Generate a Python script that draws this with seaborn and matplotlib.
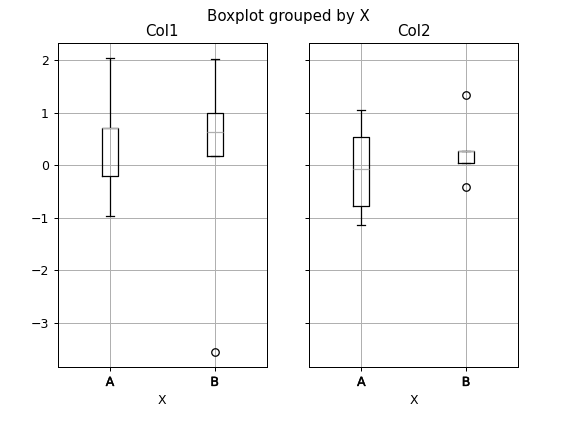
import matplotlib
matplotlib.use("Agg")
import matplotlib.pyplot as plt
import matplotlib.patheffects as pe
import seaborn as sns
import pandas as pd

groups = ["A", "A", "A", "A", "A", "B", "B", "B", "B", "B"]
col1 = [-0.97, -0.21, 0.70, 0.70, 2.04, -3.57, 0.17, 0.62, 0.99, 2.02]
col2 = [-1.15, -0.78, -0.08, 0.53, 1.04, -0.42, 0.03, 0.26, 0.26, 1.33]
columns = ["Col1", "Col2"]
order = ["A", "B"]

df = pd.DataFrame({"X": groups, "Col1": col1, "Col2": col2})

fig, axes = plt.subplots(1, 2, figsize=(6.4, 4.8), dpi=90, sharey=True)
fig.subplots_adjust(left=0.1, right=0.9, bottom=0.15, top=0.9, wspace=0.2)

for ax, col in zip(axes, columns):
    sns.boxplot(
        data=df, x="X", y=col, order=order, ax=ax,
        width=0.15, whis=1.5, fill=False, color="black", linewidth=1,
        medianprops={"color": "#b0b0b0", "linewidth": 1},
        flierprops={"marker": "o", "markerfacecolor": "none",
                    "markeredgecolor": "black", "markersize": 6},
    )
    ax.set_title(col, fontsize=12)
    ax.set_xlabel("X")
    ax.set_ylabel("")
    ax.grid(True, color="#b0b0b0", linewidth=0.8)
    ax.set_axisbelow(True)
    ax.set_xlim(-0.5, 1.5)
    for lab in ax.get_xticklabels():
        lab.set_path_effects([pe.withStroke(linewidth=0.35, foreground="black")])

axes[1].tick_params(labelleft=False)
fig.suptitle("Boxplot grouped by X", fontsize=12)
fig.savefig("out.png", dpi=90)
